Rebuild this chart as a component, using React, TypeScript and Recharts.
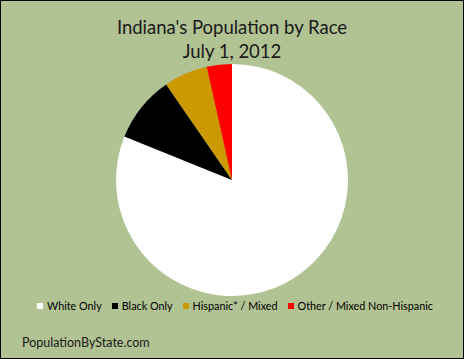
import { PieChart, Pie, Cell } from 'recharts'

const RACES = ['White Only', 'Black Only', 'Hispanic* / Mixed', 'Other / Mixed Non-Hispanic']
const SHARES = [81.1, 9.3, 6.1, 3.5]
const COLORS = ['#ffffff', '#000000', '#cc9900', '#ff0000']

const FONT = 'Lato, "Open Sans", sans-serif'
const BG = '#b1c293'

const data = RACES.map((name, i) => ({ name, value: SHARES[i] }))

export default function App() {
  return (
    <div style={{
      position: 'absolute', left: 0, top: 0, width: 464, height: 359,
      background: BG, boxSizing: 'border-box', border: '1px solid #000', fontFamily: FONT,
    }}>
      <div style={{ position: 'absolute', left: 0, top: 14, width: 462, textAlign: 'center', fontSize: 18.5, lineHeight: '24px', color: '#1a1a1a' }}>
        Indiana's Population by Race<br />July 1, 2012
      </div>
      <div style={{ position: 'absolute', top: 0, left: 0 }}>
        <PieChart width={462} height={357} margin={{ top: 0, right: 0, bottom: 0, left: 0 }}>
          <Pie data={data} dataKey="value" nameKey="name" cx={231} cy={179} outerRadius={116}
            startAngle={90} endAngle={-270} stroke="none" isAnimationActive={false}>
            {data.map((_, i) => <Cell key={i} fill={COLORS[i]} />)}
          </Pie>
        </PieChart>
      </div>
      {/* legend drawn by hand so the order stays as in the data */}
      <div style={{ position: 'absolute', left: 36, top: 298, display: 'flex', gap: 10, fontSize: 10.8, lineHeight: '14px', color: '#000' }}>
        {RACES.map((r, i) => (
          <span key={r} style={{ display: 'flex', alignItems: 'center', gap: 4 }}>
            <span style={{ width: 6, height: 6, background: COLORS[i], display: 'inline-block' }} />
            {r}
          </span>
        ))}
      </div>
      <div style={{ position: 'absolute', left: 21, top: 334, fontSize: 12.5, color: '#1a1a1a' }}>
        PopulationByState.com
      </div>
    </div>
  )
}
